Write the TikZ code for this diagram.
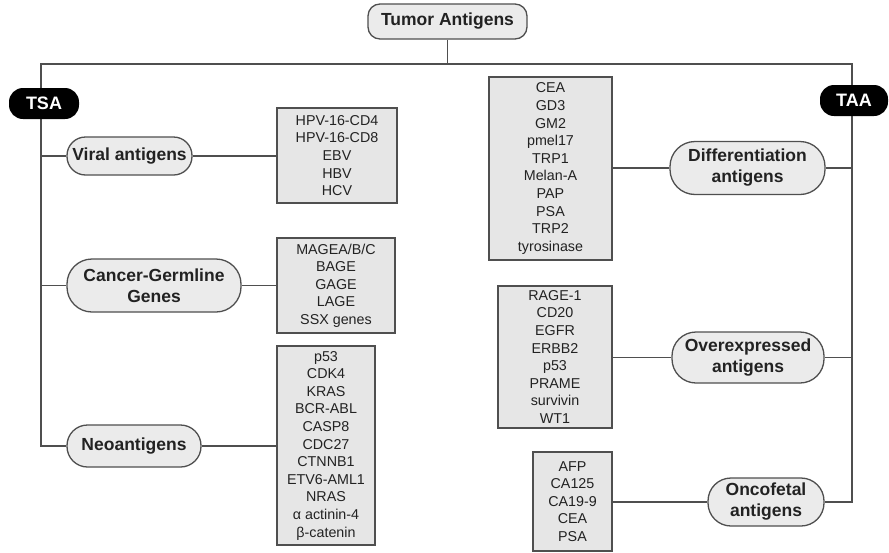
\documentclass[tikz,border=0pt]{standalone}
\usepackage{fontspec}
\setmainfont{Liberation Sans}
\usetikzlibrary{positioning, backgrounds}
\usepackage{xcolor}
\definecolor{linegray}{HTML}{4F4F4F}
\definecolor{boxgray}{HTML}{E6E6E6}
\definecolor{pillgray}{HTML}{EBEBEB}
\definecolor{inkgray}{HTML}{222222}

\begin{document}
\begin{tikzpicture}[
  x=1pt, y=-1pt,
  headbox/.style={rectangle, draw=linegray, line width=1.3pt, rounded corners=12pt, fill=pillgray, minimum width=159pt, minimum height=35pt, inner sep=0pt, font=\fontsize{17.5}{21}\selectfont\bfseries, text=inkgray},
  pill/.style={rectangle, draw=linegray, line width=1.3pt, rounded corners=18.5pt, fill=pillgray, align=center, inner sep=0pt, font=\fontsize{17.5}{21}\selectfont\bfseries, text=inkgray},
  listbox/.style={rectangle, draw=linegray, line width=1.3pt, fill=boxgray, align=center, inner sep=0pt, font=\fontsize{14.3}{17.6}\selectfont, text=inkgray},
  tag/.style={rectangle, rounded corners=14pt, fill=black, text=white, font=\fontsize{18}{21}\selectfont\bfseries, minimum width=70pt, minimum height=31pt, inner sep=0pt},
  link/.style={draw=linegray, line width=1.3pt}
]
\useasboundingbox (0,0) rectangle (889,552);

% Nodes
\node[headbox] (tumor) at (447.5,21.5) {Tumor Antigens};
\coordinate (lt) at (41,64);
\coordinate (rt) at (852,64);
\node[tag] (tsa) at (44,103.5) {TSA};
\node[tag, minimum width=68pt] (taa) at (854,100.5) {TAA};

\node[pill, minimum width=125pt, minimum height=38pt] (viral) at (129.5,156) {Viral antigens};
\node[pill, rounded corners=25pt, minimum width=174pt, minimum height=53pt] (cancer) at (154,285.5) {Cancer-Germline\\Genes};
\node[pill, rounded corners=20.5pt, minimum width=134pt, minimum height=42pt] (neo) at (134,446) {Neoantigens};

\node[listbox, minimum width=120pt, minimum height=95pt] (viralbox) at (337,155.5)
  {HPV-16-CD4\\HPV-16-CD8\\EBV\\HBV\\HCV};
\node[listbox, minimum width=118pt, minimum height=95pt] (cancerbox) at (336,285.5)
  {MAGEA/B/C\\BAGE\\GAGE\\LAGE\\SSX genes};
\node[listbox, minimum width=98pt, minimum height=199pt] (neobox) at (326,445.5)
  {p53\\CDK4\\KRAS\\BCR-ABL\\CASP8\\CDC27\\CTNNB1\\ETV6-AML1\\NRAS\\α actinin-4\\β-catenin};

\node[pill, rounded corners=25pt, minimum width=155pt, minimum height=53pt] (diff) at (747.5,168) {Differentiation\\antigens};
\node[pill, rounded corners=24pt, minimum width=152pt, minimum height=51pt] (over) at (748,357.5) {Overexpressed\\antigens};
\node[pill, rounded corners=23pt, minimum width=116pt, minimum height=48pt] (onco) at (766,502) {Oncofetal\\antigens};

\node[listbox, minimum width=123pt, minimum height=183pt] (diffbox) at (550.5,168.5)
  {CEA\\GD3\\GM2\\pmel17\\TRP1\\Melan-A\\PAP\\PSA\\TRP2\\tyrosinase};
\node[listbox, minimum width=114pt, minimum height=142pt] (overbox) at (555,357)
  {RAGE-1\\CD20\\EGFR\\ERBB2\\p53\\PRAME\\survivin\\WT1};
\node[listbox, minimum width=79pt, minimum height=99pt] (oncobox) at (572.5,501.5)
  {AFP\\CA125\\CA19-9\\CEA\\PSA};

% Connections
\begin{pgfonlayer}{background}
\draw[link] (tumor.south) -- (tumor |- lt);
\draw[link] (neo.west) -- (lt |- neo) -- (lt) -- (rt) -- (rt |- onco) -- (onco.east);
\draw[link] (lt |- viral) -- (viral.west);
\draw[link] (lt |- cancer) -- (cancer.west);
\draw[link] (viral.east) -- (viralbox.west |- viral);
\draw[link] (cancer.east) -- (cancerbox.west |- cancer);
\draw[link] (neo.east) -- (neobox.west |- neo);
\draw[link] (rt |- diff) -- (diff.east);
\draw[link] (rt |- over) -- (over.east);
\draw[link] (diff.west) -- (diffbox.east |- diff);
\draw[link] (over.west) -- (overbox.east |- over);
\draw[link] (onco.west) -- (oncobox.east |- onco);
\end{pgfonlayer}

\end{tikzpicture}
\end{document}
